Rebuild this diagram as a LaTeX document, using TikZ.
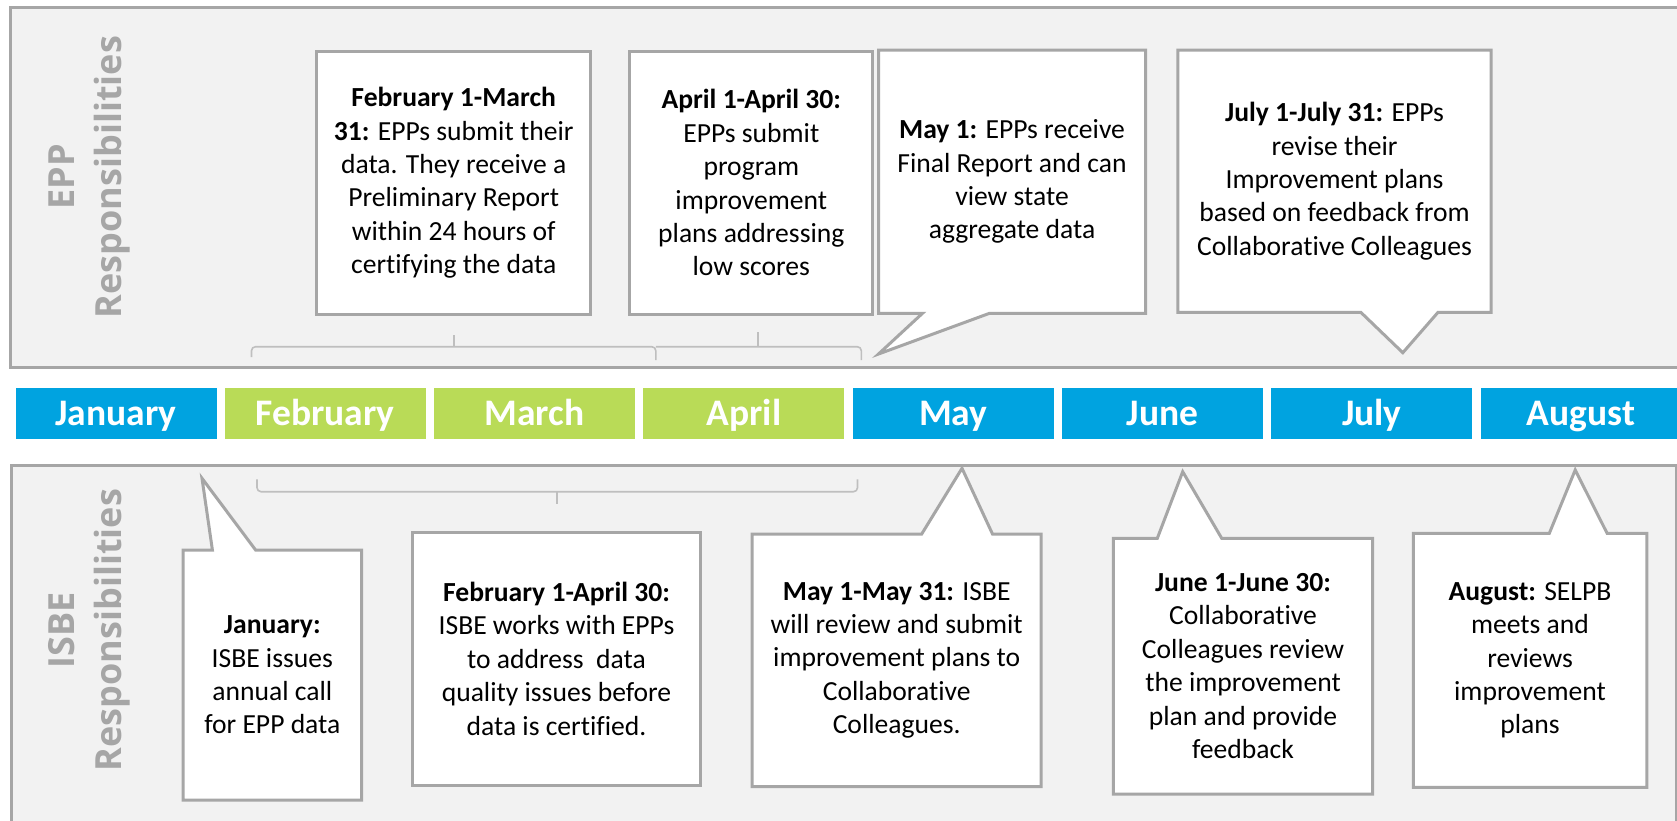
\documentclass[tikz,border=0pt]{standalone}
\usepackage{fontspec}
\setmainfont[Ligatures=CommonOff]{Carlito}
\newfontfamily\labelfont{Open Sans}
\definecolor{panelgray}{HTML}{F2F2F2}
\definecolor{linegray}{HTML}{A6A6A6}
\definecolor{bracegray}{HTML}{BFBFBF}
\definecolor{monthblue}{RGB}{0,163,224}
\definecolor{monthgreen}{RGB}{185,219,87}
\begin{document}
\begin{tikzpicture}[x=1pt,y=-1pt,
  panel/.style={fill=panelgray, draw=linegray, line width=3pt},
  callout/.style={fill=white, draw=linegray, line width=3pt, line join=miter},
  bracepath/.style={draw=bracegray, line width=1.6pt, rounded corners=4pt},
  monthbox/.style={minimum width=201pt, minimum height=51.3pt, inner sep=0pt, anchor=north west,
     text height=24.2pt, text depth=0pt, text=white, font=\fontsize{37.5}{40}\selectfont\bfseries},
  body/.style={align=center, inner sep=0pt, text=black, font=\fontsize{27.6}{33.4}\selectfont},
  sidelabel/.style={rotate=90, align=center, inner sep=0pt, text=linegray,
     font=\labelfont\bfseries\fontsize{36}{47}\selectfont}]
\useasboundingbox (0,0) rectangle (1677,820);
\clip (0,0) rectangle (1677,820);

% panels
\draw[panel] (10.3,7.3) rectangle (1700,367.7);
\draw[panel] (11.5,465) rectangle (1676,860);

% side labels
\node[sidelabel] (epplabel) at (89.5,177) {EPP\\Responsibilities};
\node[sidelabel] (isbelabel) at (89.5,630) {ISBE\\Responsibilities};

% months
\node[monthbox, fill=monthblue]  (jan) at (15.3,387.7) {January};
\node[monthbox, fill=monthgreen] (feb) at (224.6,387.7) {February};
\node[monthbox, fill=monthgreen] (mar) at (433.9,387.7) {March};
\node[monthbox, fill=monthgreen] (apr) at (643.2,387.7) {April};
\node[monthbox, fill=monthblue]  (may) at (852.5,387.7) {May};
\node[monthbox, fill=monthblue]  (jun) at (1061.8,387.7) {June};
\node[monthbox, fill=monthblue]  (jul) at (1271.1,387.7) {July};
\node[monthbox, fill=monthblue]  (aug) at (1480.4,387.7) {August};

% top brackets
\draw[bracepath] (251.5,357) -- (251.5,346.7) -- (655.8,346.7) -- (655.8,360);
\draw[bracepath] (454,346.7) -- (454,335);
\draw[bracepath] (655.8,346.7) -- (861.3,346.7) -- (861.3,360);
\draw[bracepath] (758,346.7) -- (758,332);
% bottom bracket
\draw[bracepath] (257,479.3) -- (257,491.7) -- (857.5,491.7) -- (857.5,479.3);
\draw[bracepath] (556.8,491.7) -- (556.8,504);

% top callouts
\draw[callout] (316.7,51.7) rectangle (590.7,314);
\node[body] (feb1) at (453.7,182.9) {\textbf{February 1-March}\\\textbf{31:} EPPs submit their\\data. They receive a\\Preliminary Report\\within 24 hours of\\certifying the data};

\draw[callout] (629.8,51.7) rectangle (872.8,314);
\node[body] (apr1) at (751.3,182.9) {\textbf{April 1-April 30:}\\EPPs submit\\program\\improvement\\plans addressing\\low scores};

\draw[callout] (878.5,50) -- (1145.6,50) -- (1145.6,313.3) -- (989.5,313.3) -- (878.5,354) -- (922.5,313.3) -- (878.5,313.3) -- cycle;
\node[body] (may1) at (1012,181.7) {\textbf{May 1:} EPPs receive\\Final Report and can\\view state\\aggregate data};

\draw[callout] (1177.9,50) -- (1491.2,50) -- (1491.2,312.3) -- (1438,312.3) -- (1402.8,352.7) -- (1360.8,312.3) -- (1177.9,312.3) -- cycle;
\node[body] (jul1) at (1334.5,181.2) {\textbf{July 1-July 31:} EPPs\\revise their\\Improvement plans\\based on feedback from\\Collaborative Colleagues};

% bottom callouts
\draw[callout] (183,550) -- (212.4,550) -- (202,478.3) -- (255.6,550) -- (361.7,550) -- (361.7,800) -- (183,800) -- cycle;
\node[body] (janb) at (272.3,675) {\textbf{January:}\\ISBE issues\\annual call\\for EPP data};

\draw[callout] (412.6,532.3) rectangle (700.5,785);
\node[body] (febb) at (556.5,658.7) {\textbf{February 1-April 30:}\\ISBE works with EPPs\\to address\ \ data\\quality issues before\\data is certified.};

\draw[callout] (752.2,534) -- (921.7,534) -- (962,468.3) -- (992.5,534) -- (1041.2,534) -- (1041.2,786.7) -- (752.2,786.7) -- cycle;
\node[body] (mayb) at (896.7,660.3) {\textbf{May 1-May 31:} ISBE\\will review and submit\\improvement plans to\\Collaborative\\Colleagues.};

\draw[callout] (1113.3,538.3) -- (1157.3,538.3) -- (1182.7,471.7) -- (1221.7,538.3) -- (1372.7,538.3) -- (1372.7,794) -- (1113.3,794) -- cycle;
\node[body] (junb) at (1243,666) {\textbf{June 1-June 30:}\\Collaborative\\Colleagues review\\the improvement\\plan and provide\\feedback};

\draw[callout] (1413.3,533.3) -- (1549.3,533.3) -- (1575.2,470) -- (1607.1,533.3) -- (1646.8,533.3) -- (1646.8,787.3) -- (1413.3,787.3) -- cycle;
\node[body] (augb) at (1530,660.3) {\textbf{August:} SELPB\\meets and\\reviews\\improvement\\plans};
\end{tikzpicture}
\end{document}
